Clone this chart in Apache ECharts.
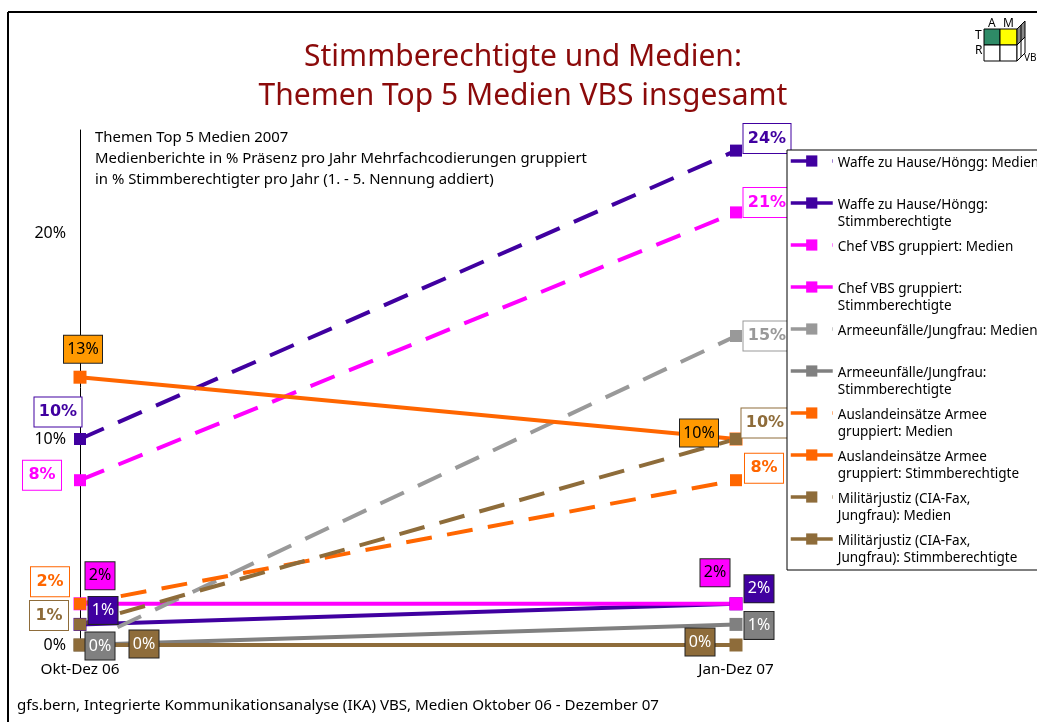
<!DOCTYPE html>
<html><head><meta charset="utf-8">
<style>html,body{margin:0;padding:0;background:#fff}#c{width:1037px;height:722px}</style>
<script src="https://cdn.jsdelivr.net/npm/echarts@6/dist/echarts.min.js"></script>
</head><body><div id="c"></div>
<script>
const categories = ['Okt-Dez 06', 'Jan-Dez 07'];
const yTicks = [0, 10, 20];
const waffeMedien = [10, 24];
const waffeStimm = [1, 2];
const chefMedien = [8, 21];
const chefStimm = [2, 2];
const armeeMedien = [0, 15];
const armeeStimm = [0, 1];
const auslandMedien = [2, 8];
const auslandStimm = [13, 10];
const militaerMedien = [1, 10];
const militaerStimm = [0, 0];
const font = '"Noto Sans","DejaVu Sans",sans-serif';
const PURPLE='#4000a0', MAGENTA='#ff00ff', GRAY1='#999999', GRAY2='#808080', ORANGE='#ff6600', BROWN='#8e6c3a';

function outlined(color, offset, w){
  return {show:true, position:'inside', offset, formatter:'{c}%', align:'center', verticalAlign:'middle',
    width:w||38, height:29, lineHeight:29, backgroundColor:'#fff', borderColor:color, borderWidth:1,
    color, fontFamily:'"DejaVu Sans",sans-serif', fontWeight:'bold', fontSize:16};
}
function filled(fill, text, offset, w){
  return {show:true, position:'inside', offset, formatter:'{c}%', align:'center', verticalAlign:'middle',
    width:w||29, height:27, lineHeight:27, backgroundColor:fill, borderColor:'#222', borderWidth:1,
    color:text, fontFamily:font, fontSize:16};
}
function pts(values, labels){ return values.map((v,i)=>({value:v, label: labels[i] || {show:false}})); }
function mk(name, color, dashed, values, labels){
  return {name, type:'line', data:pts(values,labels), symbol:'rect', symbolSize:dashed?12:13, showSymbol:true,
    lineStyle:{color, width:4, type: dashed?[26,15.5]:'solid', cap:'butt'}, itemStyle:{color}, z:2,
    emphasis:{disabled:true}, silent:true};
}
const seriesList = [
  mk('Waffe zu Hause/Höngg: Medien', PURPLE, true, waffeMedien, [outlined(PURPLE,[-22,-27],47), outlined(PURPLE,[31,-12],47)]),
  mk('Waffe zu Hause/Höngg:\nStimmberechtigte', PURPLE, false, waffeStimm, [filled(PURPLE,'#fff',[23,-14]), filled(PURPLE,'#fff',[23,-15])]),
  mk('Chef VBS gruppiert: Medien', MAGENTA, true, chefMedien, [outlined(MAGENTA,[-38,-5]), outlined(MAGENTA,[31,-10],47)]),
  mk('Chef VBS gruppiert:\nStimmberechtigte', MAGENTA, false, chefStimm, [filled(MAGENTA,'#000',[20,-28]), filled(MAGENTA,'#000',[-21,-31])]),
  mk('Armeeunfälle/Jungfrau: Medien', GRAY1, true, armeeMedien, [null, outlined(GRAY1,[31,0],47)]),
  mk('Armeeunfälle/Jungfrau:\nStimmberechtigte', GRAY2, false, armeeStimm, [filled(GRAY2,'#fff',[20,1]), filled(GRAY2,'#fff',[23,1])]),
  mk('Auslandeinsätze Armee\ngruppiert: Medien', ORANGE, true, auslandMedien, [outlined(ORANGE,[-30,-22]), outlined(ORANGE,[28,-12])]),
  mk('Auslandeinsätze Armee\ngruppiert: Stimmberechtigte', ORANGE, false, auslandStimm, [filled('#ff9900','#000',[3,-28],38), filled('#ff9900','#000',[-37,-6],38)]),
  mk('Militärjustiz (CIA-Fax,\nJungfrau): Medien', BROWN, true, militaerMedien, [outlined(BROWN,[-31,-9]), outlined(BROWN,[29,-16],47)]),
  mk('Militärjustiz (CIA-Fax,\nJungfrau): Stimmberechtigte', BROWN, false, militaerStimm, [filled(BROWN,'#fff',[64,-1]), filled(BROWN,'#fff',[-36,-3])])
];
const logoLines = [
  {type:'rect', shape:{x:984,y:29,width:16,height:16}, style:{fill:'#2e8b67',stroke:'#000',lineWidth:1}},
  {type:'rect', shape:{x:1000,y:29,width:17,height:16}, style:{fill:'#ffff00',stroke:'#000',lineWidth:1}},
  {type:'rect', shape:{x:984,y:45,width:16,height:16}, style:{fill:'#fff',stroke:'#000',lineWidth:1}},
  {type:'rect', shape:{x:1000,y:45,width:17,height:16}, style:{fill:'#fff',stroke:'#000',lineWidth:1}},
  {type:'polygon', shape:{points:[[1017,29],[1025,21],[1025,37],[1017,45]]}, style:{fill:'#888',stroke:'#000',lineWidth:1}},
  {type:'polygon', shape:{points:[[1017,45],[1025,37],[1025,53],[1017,61]]}, style:{fill:'#fff',stroke:'#000',lineWidth:1}},
  {type:'line', shape:{x1:1021,y1:25,x2:1021,y2:57}, style:{stroke:'#000',lineWidth:1}},
  {type:'text', x:988, y:18, style:{text:'A', font:'12px '+font, fill:'#000'}},
  {type:'text', x:1003, y:18, style:{text:'M', font:'12px '+font, fill:'#000'}},
  {type:'text', x:975, y:30, style:{text:'T', font:'12px '+font, fill:'#000'}},
  {type:'text', x:975, y:45, style:{text:'R', font:'12px '+font, fill:'#000'}},
  {type:'text', x:1024, y:53, style:{text:'VBS', font:'10px '+font, fill:'#000'}}
];
const chart = echarts.init(document.getElementById('c'), null, {renderer:'canvas'});
chart.setOption({
  animation:false,
  backgroundColor:'#fff',
  title:[
    {text:'Stimmberechtigte und Medien:\nThemen Top 5 Medien VBS insgesamt', left:518, textAlign:'center', top:33,
     textStyle:{color:'#8b0a0a', fontFamily:font, fontWeight:'normal', fontSize:30, lineHeight:39}},
    {text:'Themen Top 5 Medien 2007\nMedienberichte in % Präsenz pro Jahr Mehrfachcodierungen gruppiert\nin % Stimmberechtigter pro Jahr (1. - 5. Nennung addiert)', left:95, top:127,
     padding:0, textStyle:{color:'#000', fontFamily:font, fontWeight:'normal', fontSize:14.9, lineHeight:21}},
    {text:'gfs.bern, Integrierte Kommunikationsanalyse (IKA) VBS, Medien Oktober 06 - Dezember 07', left:17, top:698,
     padding:0, textStyle:{color:'#000', fontFamily:font, fontWeight:'normal', fontSize:15.1}}
  ],
  grid:{left:80, top:130, width:656, height:515, containLabel:false},
  tooltip:{show:false},
  xAxis:{type:'category', boundaryGap:false, data:categories, axisLine:{show:false}, axisTick:{show:false},
    axisLabel:{color:'#000', fontFamily:font, fontSize:15.3, margin:17, interval:0, hideOverlap:false}, splitLine:{show:false}},
  yAxis:{type:'value', min:0, max:25, interval:10, axisLine:{show:true, lineStyle:{color:'#000',width:1}}, axisTick:{show:false},
    splitLine:{show:false}, axisLabel:{color:'#000', fontFamily:font, fontSize:16, margin:14, showMaxLabel:false, formatter:v=>yTicks.includes(v)?v+'%':''}},
  legend:{orient:'vertical', left:787, top:133.5, padding:[0,0,0,2], itemGap:-13, itemWidth:42, itemHeight:14, symbolSize:11,
    lineStyle:{width:3.5}, z:10, selectedMode:false,
    data:seriesList.map(s=>s.name),
    textStyle:{color:'#000', fontFamily:font, fontSize:13.5, lineHeight:17,
      rich:{a:{lineHeight:21, fontSize:13.5, fontFamily:font}, b:{lineHeight:17, fontSize:13.5, fontFamily:font, color:'#000'}}},
    formatter:n=>{const p=n.split('\n'); return '{a| }\n{b|'+p[0]+'}\n{b|'+(p[1]||' ')+'}';}},
  series:seriesList,
  graphic:[
    {type:'line', shape:{x1:8,y1:12,x2:1037,y2:12}, style:{stroke:'#000',lineWidth:2}},
    {type:'line', shape:{x1:8,y1:12,x2:8,y2:722}, style:{stroke:'#000',lineWidth:2}},
    {type:'rect', z:5, shape:{x:787,y:150,width:300,height:420}, style:{fill:'#fff',stroke:'#000',lineWidth:1}},
    ...logoLines
  ]
});
</script></body></html>
